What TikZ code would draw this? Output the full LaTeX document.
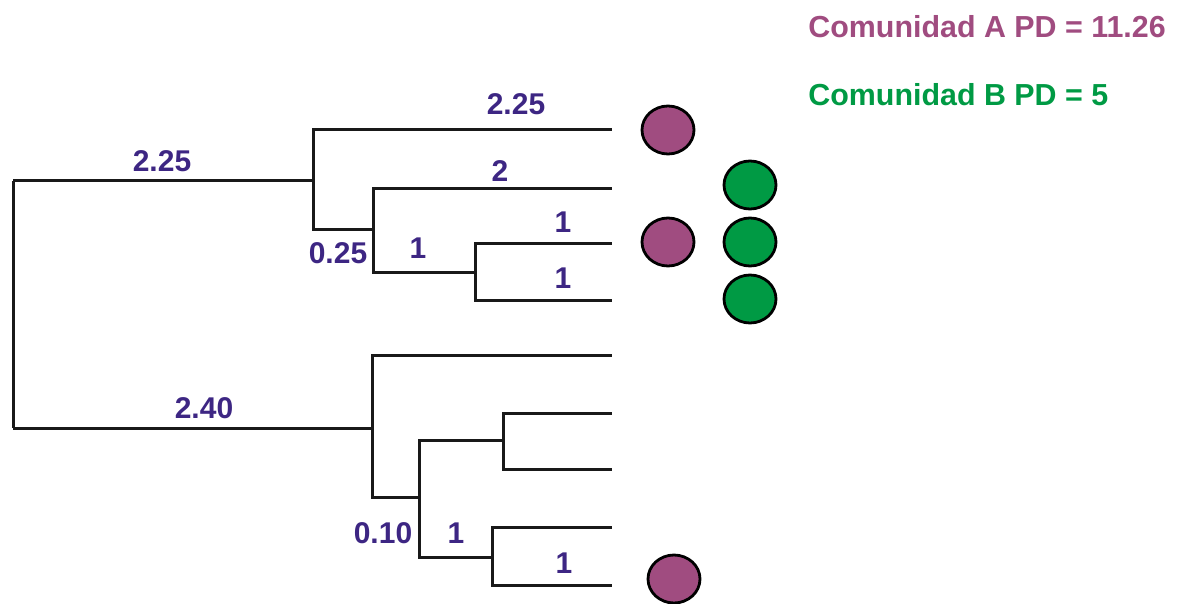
\documentclass[tikz,border=0pt]{standalone}
\usepackage{fontspec}
\setmainfont{Liberation Sans}
\usetikzlibrary{shapes.geometric}
\definecolor{labelblue}{HTML}{3D2683}
\definecolor{commA}{HTML}{A04C80}
\definecolor{commB}{HTML}{009A44}
\tikzset{
  branch/.style={line width=1.5pt, draw=black!90},
  brlabel/.style={inner sep=0pt, text=labelblue, font=\fontsize{15}{18}\selectfont\bfseries},
  title/.style={inner sep=0pt, anchor=base west, font=\fontsize{15.2}{18}\selectfont\bfseries},
  taxon/.style={ellipse, draw=black, line width=1.4pt, minimum width=26pt, minimum height=24pt, inner sep=0pt},
  taxA/.style={taxon, fill=commA},
  taxB/.style={taxon, fill=commB},
}
\begin{document}
\begin{tikzpicture}[x=0.5pt,y=-0.5pt]
\useasboundingbox (0,0) rectangle (1177,604);
% internal nodes of the tree
\coordinate (R1) at (13,181);
\coordinate (R2) at (13,428);
\coordinate (A) at (313,181);
\coordinate (B) at (373,230);
\coordinate (C) at (475,272);
\coordinate (D) at (372,428);
\coordinate (E) at (419,497);
\coordinate (F) at (503,440);
\coordinate (G) at (492,557);
% tips
\coordinate (L1) at (612,130);
\coordinate (L2) at (612,189);
\coordinate (L3) at (612,244);
\coordinate (L4) at (612,300);
\coordinate (L5) at (612,355);
\coordinate (L6) at (612,413);
\coordinate (L7) at (612,469);
\coordinate (L8) at (612,527);
\coordinate (L9) at (612,585);
% branches
\draw[branch] (R1) -- (R2);
\draw[branch] (R1) -- (A);
\draw[branch] (R2) -- (D);
\draw[branch] (A) |- (L1);
\draw[branch] (A) |- (B);
\draw[branch] (B) |- (L2);
\draw[branch] (B) |- (C);
\draw[branch] (C) |- (L3);
\draw[branch] (C) |- (L4);
\draw[branch] (D) |- (L5);
\draw[branch] (D) |- (E);
\draw[branch] (E) |- (F);
\draw[branch] (E) |- (G);
\draw[branch] (F) |- (L6);
\draw[branch] (F) |- (L7);
\draw[branch] (G) |- (L8);
\draw[branch] (G) |- (L9);
% branch lengths
\node[brlabel] (t1) at (162,161) {2.25};
\node[brlabel] (t2) at (516,104) {2.25};
\node[brlabel] (t3) at (338,253) {0.25};
\node[brlabel] (t4) at (500,171) {2};
\node[brlabel] (t5) at (563,222) {1};
\node[brlabel] (t6) at (418,248) {1};
\node[brlabel] (t7) at (563,278) {1};
\node[brlabel] (t8) at (204,408) {2.40};
\node[brlabel] (t9) at (383,533) {0.10};
\node[brlabel] (t10) at (456,533) {1};
\node[brlabel] (t11) at (564,563) {1};
% community membership
\node[taxA] (a1) at (668,130) {};
\node[taxA] (a2) at (668,242) {};
\node[taxA] (a3) at (674,579) {};
\node[taxB] (b1) at (750,185) {};
\node[taxB] (b2) at (750,242) {};
\node[taxB] (b3) at (750,299) {};
% totals
\node[title, text=commA] (pdA) at (808,38) {Comunidad A PD = 11.26};
\node[title, text=commB] (pdB) at (808,106) {Comunidad B PD = 5};
\end{tikzpicture}
\end{document}
